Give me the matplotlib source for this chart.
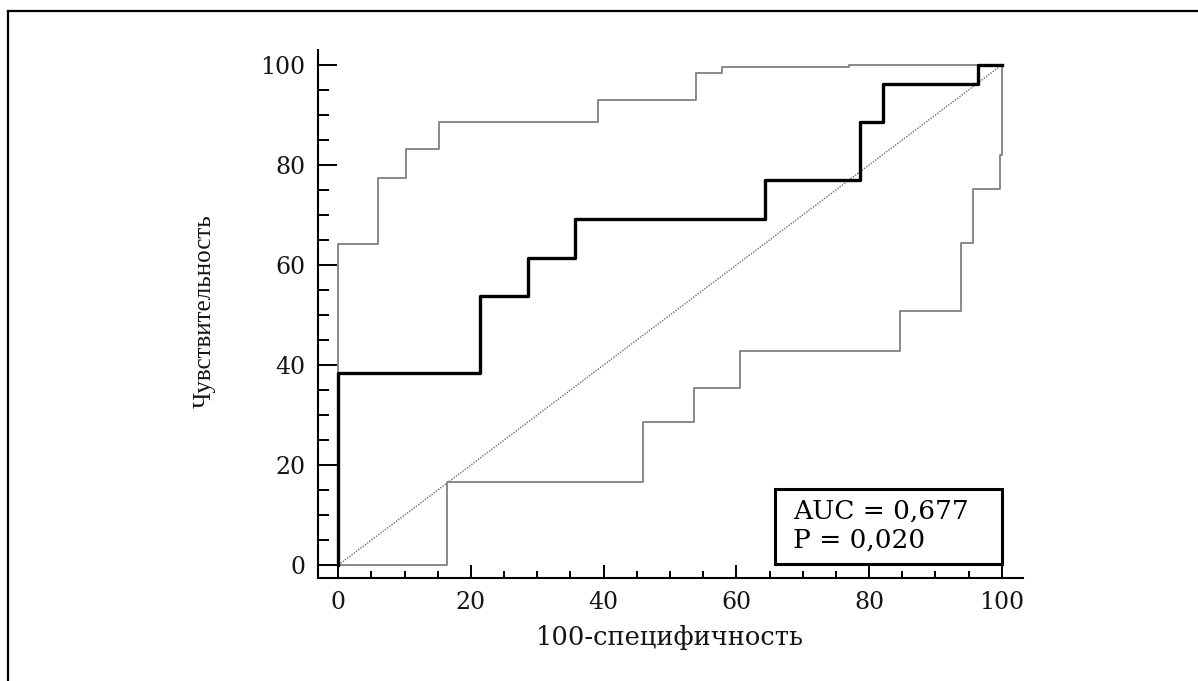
import matplotlib
matplotlib.use("Agg")
import matplotlib.pyplot as plt
from matplotlib.lines import Line2D
from matplotlib.patches import Rectangle
from matplotlib.ticker import MultipleLocator

# ROC-кривая и границы 95% ДИ (точки перегиба ступенчатых линий)
roc_x = [0, 0, 21.4, 28.6, 35.7, 64.3, 78.6, 82.1, 96.4, 100]
roc_y = [0, 38.5, 53.8, 61.5, 69.2, 76.9, 88.5, 96.2, 100, 100]

upper_x = [0, 0, 6.0, 10.2, 15.2, 39.2, 53.9, 57.8, 77.0, 100]
upper_y = [0, 64.2, 77.4, 83.2, 88.5, 92.9, 98.4, 99.5, 100, 100]

lower_x = [0, 16.4, 45.9, 53.6, 60.5, 84.7, 93.8, 95.6, 99.8, 100]
lower_y = [0, 16.7, 28.7, 35.5, 42.8, 50.9, 64.5, 75.2, 82.0, 100]

diag = [0, 100]

auc_text = "AUC = 0,677"
p_text = "P = 0,020"
x_title = "100-специфичность"
y_title = "Чувствительность"

serif = ["DejaVu Serif"]

fig = plt.figure(figsize=(11.98, 6.81), dpi=100)
ax = fig.add_axes([0.2652, 0.1512, 0.5887, 0.7754])

ax.plot(diag, diag, color="#6e6e6e", lw=1.0, ls=(0, (1, 1)))
ax.step(upper_x, upper_y, where="post", color="#808080", lw=1.3)
ax.step(lower_x, lower_y, where="post", color="#808080", lw=1.3)
ax.step(roc_x, roc_y, where="post", color="black", lw=2.4)

ax.set_xlim(-3.1, 103.2)
ax.set_ylim(-2.6, 103)

for side in ("top", "right"):
    ax.spines[side].set_visible(False)
for side in ("left", "bottom"):
    ax.spines[side].set_linewidth(1.5)

ax.xaxis.set_major_locator(MultipleLocator(20))
ax.xaxis.set_minor_locator(MultipleLocator(5))
ax.yaxis.set_major_locator(MultipleLocator(20))
ax.yaxis.set_minor_locator(MultipleLocator(5))

ax.tick_params(axis="y", which="major", direction="in", length=13.7, width=1.4, pad=9)
ax.tick_params(axis="y", which="minor", direction="in", length=8, width=1.4)
ax.tick_params(axis="x", which="major", direction="in", length=9.4, width=1.4, pad=9)
ax.tick_params(axis="x", which="minor", direction="in", length=4.7, width=1.4)

for lab in ax.get_xticklabels() + ax.get_yticklabels():
    lab.set_fontfamily(serif)
    lab.set_fontsize(17)
    lab.set_color("#151515")

ax.set_xlabel(x_title, fontsize=18.5, family=serif, color="#151515")
ax.xaxis.set_label_coords(0.5, -0.112)
ax.xaxis.label.set_va("center")

ax.set_ylabel(y_title, fontsize=18, family=["Liberation Serif"], color="#151515")
ax.yaxis.set_label_coords(-0.16, 0.505)
ax.yaxis.label.set_va("center")

# рамка с AUC и значимостью
ax.add_patch(Rectangle((65.8, 0.2), 34.2, 15.0, fill=False, lw=2.2,
                       edgecolor="black", zorder=5))
ax.text(68.5, 9.4, auc_text, fontsize=19, family=serif, va="baseline", zorder=6)
ax.text(68.5, 3.6, p_text, fontsize=19, family=serif, va="baseline", zorder=6)

# внешняя рамка рисунка
fig.add_artist(Line2D([7.5 / 1198, 1], [1 - 10.5 / 681] * 2,
                      transform=fig.transFigure, color="black", lw=1.6))
fig.add_artist(Line2D([7.5 / 1198] * 2, [0, 1 - 10.5 / 681],
                      transform=fig.transFigure, color="black", lw=1.6))

fig.savefig("out.png", dpi=100, facecolor="white")
